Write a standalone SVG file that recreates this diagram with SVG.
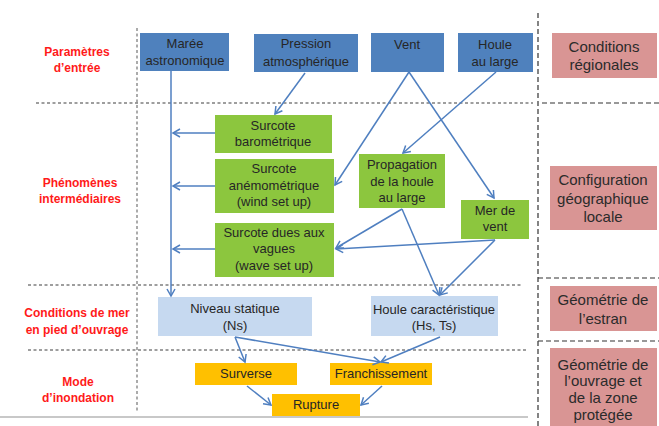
<svg xmlns="http://www.w3.org/2000/svg" width="659" height="426" viewBox="0 0 659 426">
<style>
text{font-family:"Liberation Sans",Arial,sans-serif;font-size:13px;fill:#262626;text-anchor:middle}
.lab{font-size:12px;font-weight:bold;fill:#FF1A1A}
.side{font-size:15px;fill:#2b2b2b}
.blue{fill:#4F81BD}
.green{fill:#8CC63E}
.lblue{fill:#C6D9F0}
.orange{fill:#FFC000}
.pink{fill:#D99594}
.dot{stroke:#7f7f7f;stroke-width:1.3;stroke-dasharray:3,2.5;fill:none}
.dash{stroke:#333;stroke-width:1.2;stroke-dasharray:5,3;fill:none}
.con line,.con path{stroke:#4F7FC0;stroke-width:1.5;fill:none;marker-end:url(#ah)}
.con .plain{marker-end:none}
</style>
<defs>
<marker id="ah" viewBox="-9 -6 11 12" refX="0" refY="0" markerWidth="11" markerHeight="12" markerUnits="userSpaceOnUse" orient="auto">
<path d="M-7,-4 L0,0 L-7,4" fill="none" stroke="#4F7FC0" stroke-width="1.5"/>
</marker>
</defs>
<rect width="659" height="426" fill="#fff"/>

<g id="grid">
<line class="dot" x1="137" y1="28" x2="137" y2="412"/>
<line class="dot" x1="36" y1="103" x2="533" y2="103"/>
<line class="dot" x1="28" y1="285" x2="523" y2="285"/>
<line class="dot" x1="28" y1="350" x2="527" y2="350"/>
<line class="dash" x1="538" y1="13" x2="538" y2="426"/>
<line class="dash" x1="542" y1="103" x2="659" y2="103"/>
<line class="dash" x1="538" y1="278" x2="659" y2="278"/>
<line class="dash" x1="538" y1="341" x2="659" y2="341"/>
<line x1="0" y1="417" x2="528" y2="417" stroke="#c8c8c8" stroke-width="2"/>
</g>

<g id="labels">
<text class="lab" x="77" y="56">Paramètres</text>
<text class="lab" x="77" y="72">d’entrée</text>
<text class="lab" x="80" y="187">Phénomènes</text>
<text class="lab" x="80" y="203">intermédiaires</text>
<text class="lab" x="77" y="317">Conditions de mer</text>
<text class="lab" x="77" y="334">en pied d’ouvrage</text>
<text class="lab" x="78" y="386">Mode</text>
<text class="lab" x="78" y="402">d’inondation</text>
</g>

<g id="maree"><rect class="blue" x="140" y="33" width="89" height="38"/><text x="185" y="48">Marée</text><text x="185" y="65">astronomique</text></g>
<g id="pression"><rect class="blue" x="254" y="34" width="104" height="38"/><text x="306" y="48">Pression</text><text x="306" y="66">atmosphérique</text></g>
<g id="vent"><rect class="blue" x="371" y="33" width="73" height="39"/><text x="407" y="49">Vent</text></g>
<g id="houle"><rect class="blue" x="458" y="33" width="75" height="39"/><text x="495" y="49">Houle</text><text x="495" y="66">au large</text></g>

<g id="surcote-baro"><rect class="green" x="215" y="115" width="117" height="38"/><text x="273" y="130">Surcote</text><text x="273" y="146">barométrique</text></g>
<g id="surcote-anemo"><rect class="green" x="215" y="159" width="119" height="54"/><text x="274" y="173">Surcote</text><text x="274" y="190">anémométrique</text><text x="274" y="206">(wind set up)</text></g>
<g id="surcote-vagues"><rect class="green" x="215" y="223" width="119" height="54"/><text x="274" y="237">Surcote dues aux</text><text x="274" y="253">vagues</text><text x="274" y="270">(wave set up)</text></g>
<g id="propagation"><rect class="green" x="359" y="154" width="86" height="54"/><text x="402" y="169">Propagation</text><text x="402" y="186">de la houle</text><text x="402" y="202">au large</text></g>
<g id="mer-de-vent"><rect class="green" x="461" y="200" width="68" height="39"/><text x="495" y="215">Mer de</text><text x="495" y="231">vent</text></g>

<g id="niveau"><rect class="lblue" x="158" y="297" width="154" height="39"/><text x="235" y="313">Niveau statique</text><text x="235" y="330">(Ns)</text></g>
<g id="houle-car"><rect class="lblue" x="371" y="296" width="127" height="40"/><text x="434" y="314">Houle caractéristique</text><text x="434" y="330">(Hs, Ts)</text></g>

<g id="surverse"><rect class="orange" x="195" y="363" width="102" height="22"/><text x="246" y="378">Surverse</text></g>
<g id="franchissement"><rect class="orange" x="330" y="363" width="102" height="22"/><text x="381" y="378">Franchissement</text></g>
<g id="rupture"><rect class="orange" x="272" y="394" width="88" height="22"/><text x="316" y="409">Rupture</text></g>

<g id="conditions-regionales"><rect class="pink" x="552" y="33" width="105" height="45"/><text class="side" x="604" y="52">Conditions</text><text class="side" x="604" y="70">régionales</text></g>
<g id="configuration"><rect class="pink" x="550" y="166" width="107" height="64"/><text class="side" x="603" y="185">Configuration</text><text class="side" x="603" y="204">géographique</text><text class="side" x="603" y="222">locale</text></g>
<g id="estran"><rect class="pink" x="550" y="286" width="107" height="45"/><text class="side" x="603" y="305">Géométrie de</text><text class="side" x="603" y="324">l’estran</text></g>
<g id="ouvrage"><rect class="pink" x="550" y="348" width="107" height="80"/><text class="side" x="603" y="370">Géométrie de</text><text class="side" x="603" y="386">l’ouvrage et</text><text class="side" x="603" y="403">de la zone</text><text class="side" x="603" y="420">protégée</text></g>

<g id="connectors" class="con">
<line x1="171" y1="71" x2="171" y2="296"/>
<line x1="215" y1="133" x2="173" y2="133"/>
<line x1="215" y1="186" x2="173" y2="186"/>
<line x1="215" y1="249" x2="173" y2="249"/>
<line x1="305" y1="73" x2="275" y2="114"/>
<line x1="409" y1="72" x2="335" y2="185"/>
<line x1="409" y1="72" x2="494" y2="198"/>
<line x1="496" y1="72" x2="403" y2="153"/>
<line x1="402" y1="209" x2="336" y2="248"/>
<line x1="495" y1="240" x2="336" y2="249"/>
<line x1="402" y1="209" x2="439" y2="295"/>
<line x1="495" y1="240" x2="440" y2="295"/>
<line x1="235" y1="337" x2="245" y2="362"/>
<line x1="235" y1="337" x2="380" y2="362"/>
<line x1="440" y1="337" x2="381" y2="362"/>
<line x1="247" y1="386" x2="271" y2="405"/>
<line x1="382" y1="386" x2="361" y2="405"/>
</g>
</svg>
